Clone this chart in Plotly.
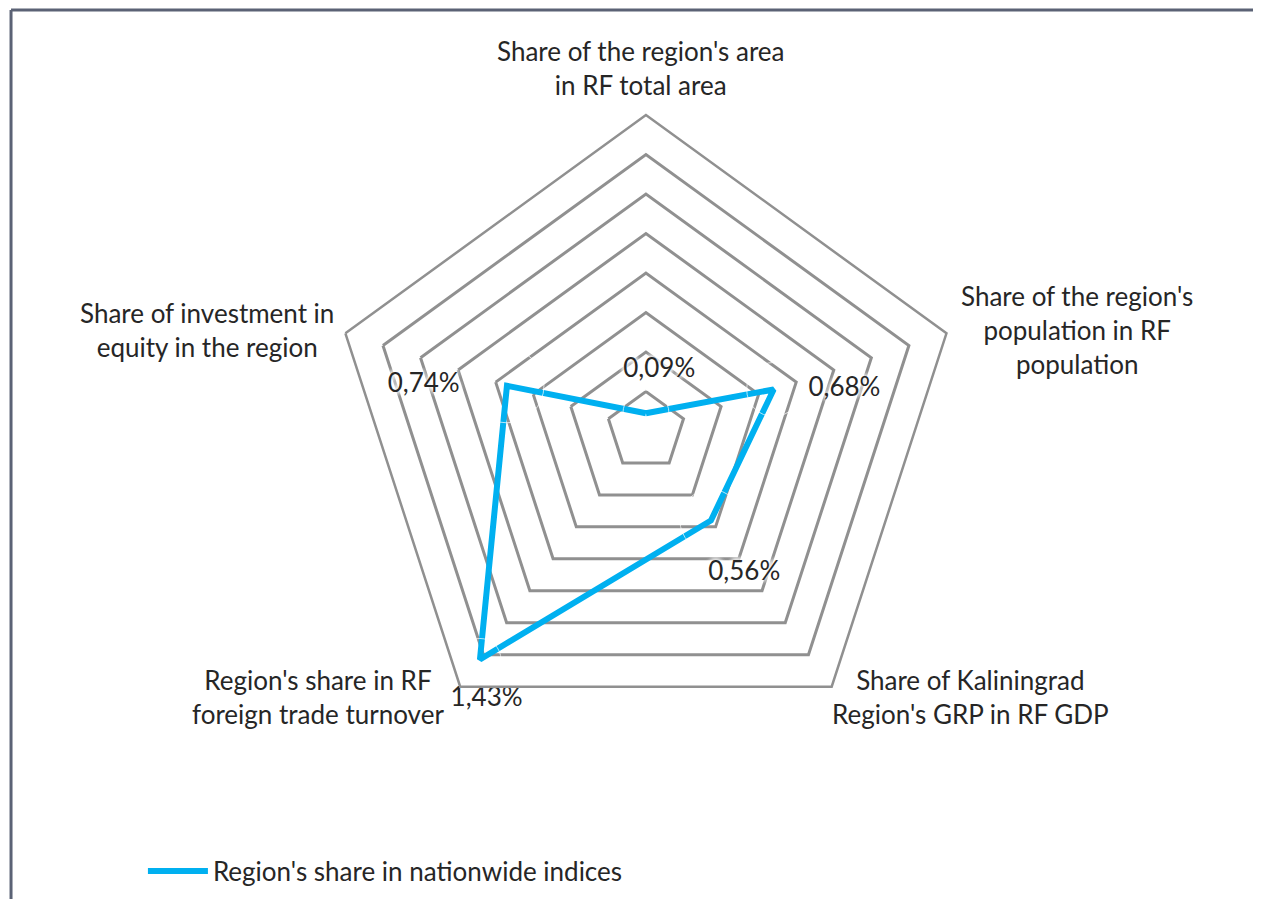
import plotly.graph_objects as go

# indicators, clockwise from the top
categories = [
    "Share of the region's area in RF total area",
    "Share of the region's population in RF population",
    "Share of Kaliningrad Region's GRP in RF GDP",
    "Region's share in RF foreign trade turnover",
    "Share of investment in equity in the region",
]
category_labels = [
    "Share of the region's area<br>in RF total area",
    "Share of the region's<br>population in RF<br>population",
    "Share of Kaliningrad<br>Region's GRP in RF GDP",
    "Region's share in RF<br>foreign trade turnover",
    "Share of investment in<br>equity in the region",
]
shares = [0.09, 0.68, 0.56, 1.43, 0.74]
share_labels = ["0,09%", "0,68%", "0,56%", "1,43%", "0,74%"]
series_name = "Region's share in nationwide indices"

FONT = "Lato"
FS = 26
TEXT = "#262626"
GRID = "#909090"
BLUE = "#00b0f0"
BORDER = "#5b6275"

# label placement around each point (Excel-like outside labels)
label_pos = ["top center", "middle right", "bottom center", "bottom center", "middle left"]
label_gap = [46, 54, 62, 42, 74]
label_nudge = [4, 0, 10, 2, 0]  # leading blanks push centred labels to the right

# where the category names sit (paper coords), clockwise from the top
name_xy = [(0.5020, 0.9333), (0.8477, 0.6418), (0.7629, 0.2336), (0.2458, 0.2336), (0.1578, 0.6418)]

fig = go.Figure()
fig.add_trace(
    go.Scatterpolar(
        r=shares + shares[:1],
        theta=categories + categories[:1],
        mode="lines",
        name=series_name,
        line=dict(color=BLUE, width=6),
    )
)
fig.add_trace(
    go.Scatterpolar(
        r=shares,
        theta=categories,
        mode="markers+text",
        text=["\u00a0" * n + t for n, t in zip(label_nudge, share_labels)],
        textposition=label_pos,
        marker=dict(size=label_gap, color="rgba(0,0,0,0)"),
        textfont=dict(family=FONT, size=FS, color=TEXT,
                      shadow="0 0 5px white, 0 0 5px white, 0 0 5px white, 0 0 5px white"),
        showlegend=False,
        hoverinfo="skip",
    )
)

annotations = [
    dict(x=x, y=y, xref="paper", yref="paper", text=label, showarrow=False,
         align="center", xanchor="center", yanchor="middle",
         font=dict(family=FONT, size=FS, color=TEXT))
    for label, (x, y) in zip(category_labels, name_xy)
]

fig.update_layout(
    width=1261,
    height=899,
    margin=dict(l=0, r=0, t=0, b=0),
    paper_bgcolor="white",
    font=dict(family=FONT, size=FS, color=TEXT),
    polar=dict(
        domain=dict(x=[0.2553, 0.7565], y=[0.1780, 0.8810]),
        bgcolor="white",
        gridshape="linear",
        radialaxis=dict(
            range=[0, 1.6],
            dtick=0.2,
            showticklabels=False,
            ticks="",
            showline=False,
            gridcolor=GRID,
            gridwidth=2.5,
        ),
        angularaxis=dict(
            rotation=90,
            direction="clockwise",
            showgrid=False,
            showline=True,
            linecolor=GRID,
            linewidth=2.5,
            ticks="",
            showticklabels=False,
        ),
    ),
    annotations=annotations,
    showlegend=True,
    legend=dict(
        x=0.107,
        y=0.04,
        xanchor="left",
        yanchor="middle",
        itemwidth=60,
        font=dict(family=FONT, size=FS, color=TEXT),
        bgcolor="rgba(0,0,0,0)",
    ),
    shapes=[
        dict(type="line", xref="paper", yref="paper", x0=0.0024, x1=1, y0=0.9978, y1=0.9978,
             line=dict(color=BORDER, width=3)),
        dict(type="line", xref="paper", yref="paper", x0=0.0024, x1=0.0024, y0=0, y1=0.9978,
             line=dict(color=BORDER, width=3)),
    ],
)

fig.write_html("out.html")
